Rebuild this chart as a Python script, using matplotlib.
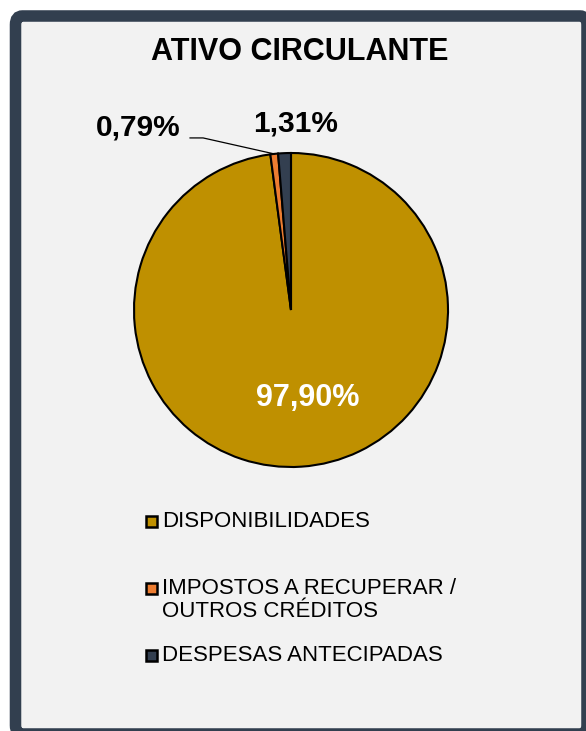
import numpy as np
import matplotlib.pyplot as plt
from matplotlib.patches import FancyBboxPatch, Rectangle

plt.rcParams['font.family'] = ['Liberation Sans', 'DejaVu Sans']

titulo = 'ATIVO CIRCULANTE'
categorias = ['DISPONIBILIDADES', 'IMPOSTOS A RECUPERAR /\nOUTROS CRÉDITOS', 'DESPESAS ANTECIPADAS']
valores = [97.90, 0.79, 1.31]
cores = ['#bf9000', '#ed7d31', '#333f50']

W, H = 586, 731
fig = plt.figure(figsize=(W / 100, H / 100), dpi=100)
fig.patch.set_facecolor('white')

# frame (cut off at right and bottom like the original screenshot)
frame = FancyBboxPatch((15.5 / W, -3 / H), 571.5 / W, 718 / H,
                       boxstyle='round,pad=0,rounding_size=0.012',
                       transform=fig.transFigure, facecolor='#f2f2f2',
                       edgecolor='#323f4f', linewidth=8.3, zorder=-5)
fig.patches.append(frame)

fig.text(300 / W, 1 - 52 / H, titulo, ha='center', va='center',
         fontsize=22, fontweight='bold', color='black')

# pie
cx, cy, r = 291, 310, 157
ax = fig.add_axes([(cx - r) / W, 1 - (cy + r) / H, 2 * r / W, 2 * r / H])
ax.set_facecolor('none')
wedges, _ = ax.pie(valores, colors=cores, startangle=90, counterclock=False,
                   wedgeprops=dict(edgecolor='black', linewidth=1.5))
ax.set_xlim(-1, 1)
ax.set_ylim(-1, 1)
ax.set_aspect('equal')
ax.axis('off')

def fmt(v):
    return f'{v:.2f}%'.replace('.', ',')

# 97,90% inside
ax.text(0.105, -0.56, fmt(valores[0]), ha='center', va='center',
        fontsize=22, fontweight='bold', color='white')
# 1,31% above
ax.text(0.03, 1.19, fmt(valores[2]), ha='center', va='center',
        fontsize=21.5, fontweight='bold', color='black')
# 0,79% with leader line
w = wedges[1]
ang = np.deg2rad((w.theta1 + w.theta2) / 2)
ax.text(-0.975, 1.16, fmt(valores[1]), ha='center', va='center',
        fontsize=21.5, fontweight='bold', color='black')
ax.plot([-0.643, -0.56, np.cos(ang)], [1.096, 1.096, np.sin(ang)],
        color='black', lw=0.9, clip_on=False)

# legend
leg_y = [521, 588, 655]
for lab, c, y in zip(categorias, cores, leg_y):
    fig.patches.append(Rectangle((146 / W, 1 - (y + 5.5) / H), 11 / W, 11 / H,
                                 transform=fig.transFigure, facecolor=c,
                                 edgecolor='black', linewidth=1.8))
    fig.text(162 / W, 1 - (y - 10) / H, lab, ha='left', va='top',
             fontsize=16, color='black', linespacing=1.1)

fig.savefig('out.png', dpi=100)
